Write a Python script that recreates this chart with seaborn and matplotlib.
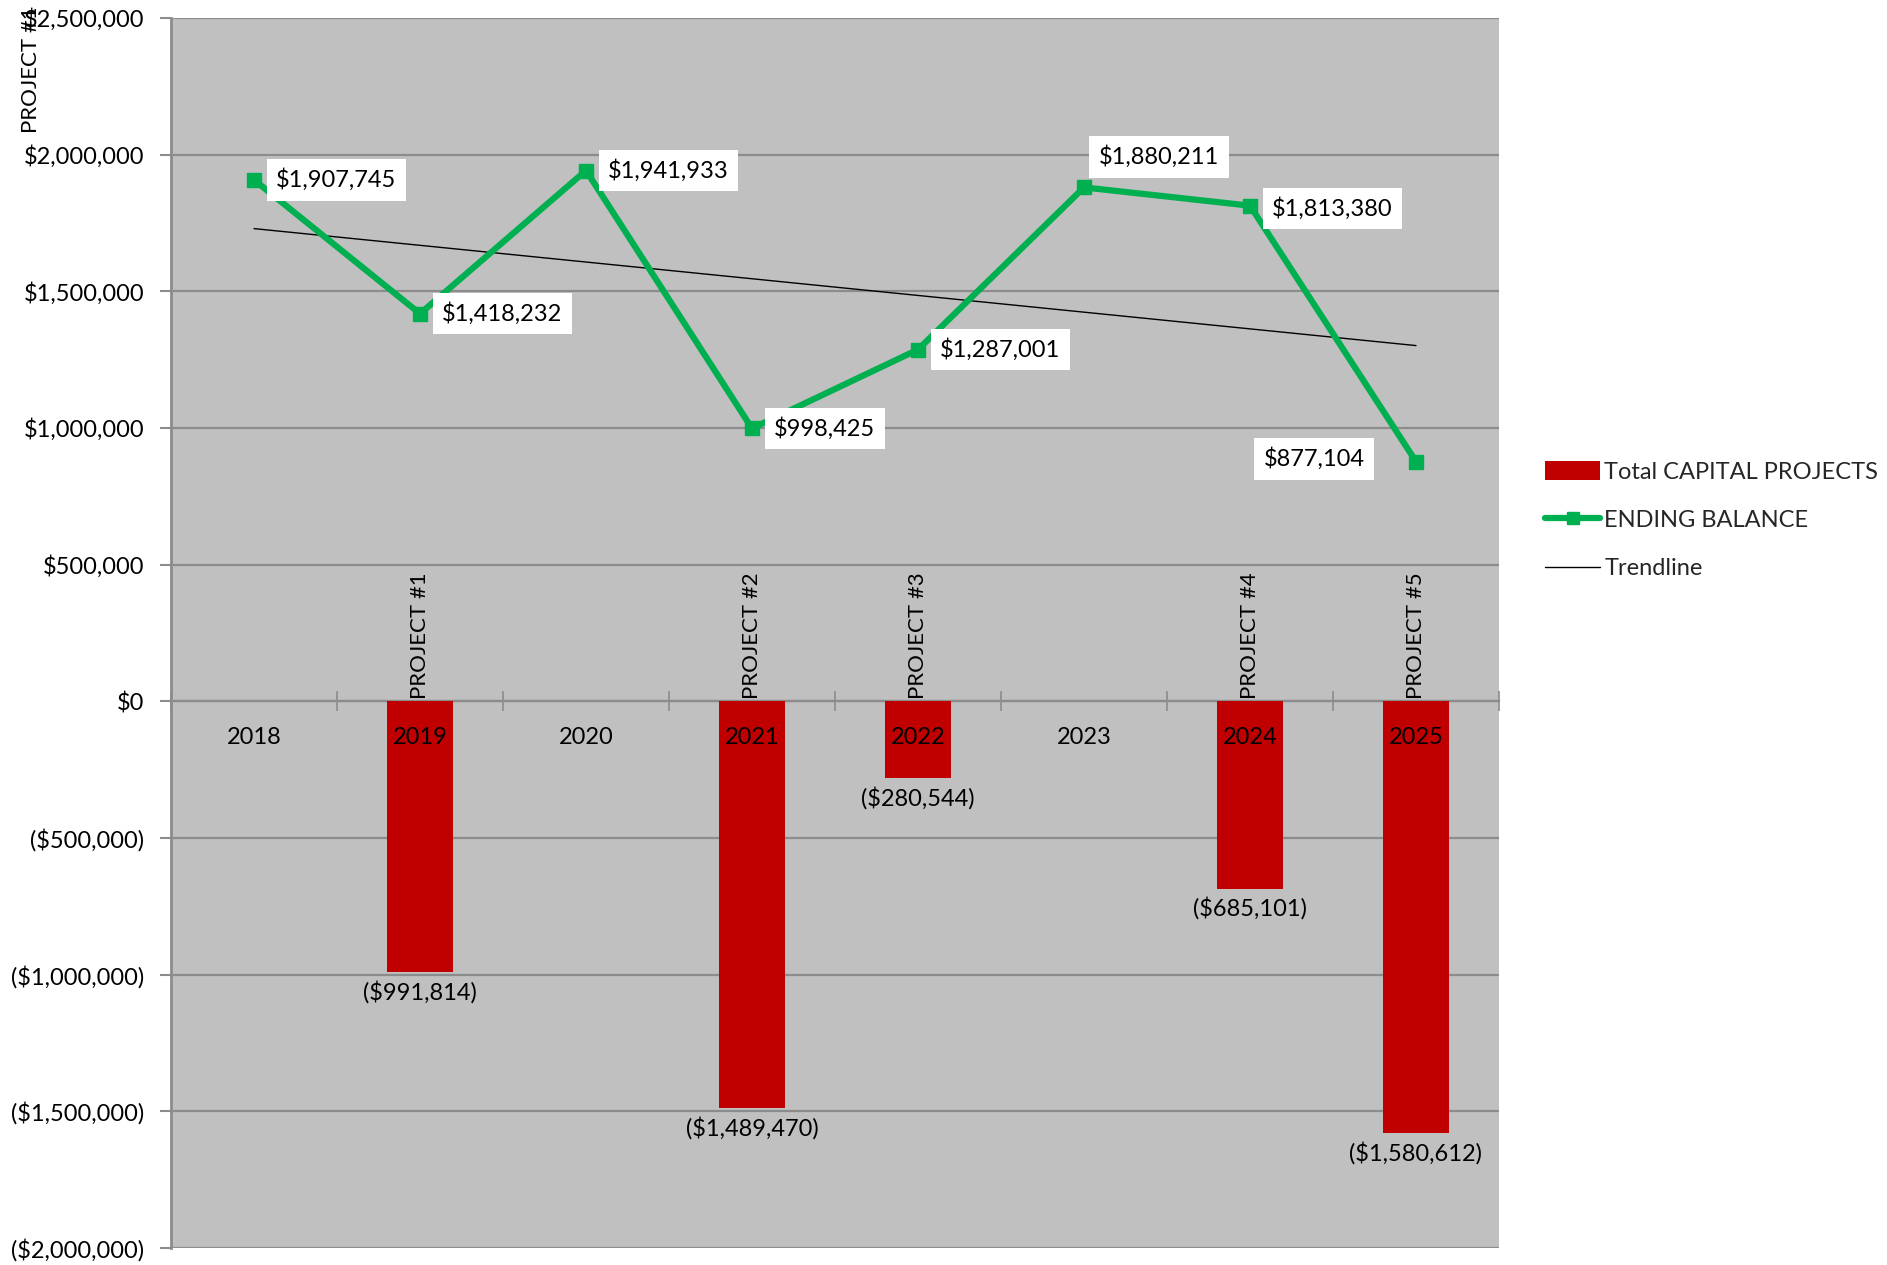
import numpy as np
import pandas as pd
import matplotlib
matplotlib.use("Agg")
import matplotlib.pyplot as plt
import matplotlib.ticker as mticker
from matplotlib.patches import Patch
from matplotlib.lines import Line2D
import seaborn as sns

# ---- data ----
years = ["2018", "2019", "2020", "2021", "2022", "2023", "2024", "2025"]
capital_projects = [0, -991814, 0, -1489470, -280544, 0, -685101, -1580612]
project_names = ["", "PROJECT #1", "", "PROJECT #2", "PROJECT #3", "", "PROJECT #4", "PROJECT #5"]
ending_balance = [1907745, 1418232, 1941933, 998425, 1287001, 1880211, 1813380, 877104]

df = pd.DataFrame({"year": years, "capital": capital_projects,
                   "balance": ending_balance, "pos": np.arange(len(years))})

sns.set_theme(style="white")
plt.rcParams["font.family"] = ["Lato", "DejaVu Sans"]
FS = 17

RED = "#C00000"
GREEN = "#00B050"
GRID = "#8C8C8C"

fig = plt.figure(figsize=(18.87, 12.65), dpi=100)
ax = fig.add_axes([171 / 1887, 1 - 1248 / 1265, (1499 - 171) / 1887, (1248 - 18) / 1265])
ax.set_facecolor("#C0C0C0")

# bars for capital projects
sns.barplot(data=df, x="year", y="capital", order=years, color=RED, saturation=1,
            width=0.4, ax=ax, zorder=2, linewidth=0, edgecolor="none")

# ending balance line
ax.plot(df["pos"], df["balance"], color=GREEN, lw=4.5, marker="s", ms=10,
        zorder=4, solid_joinstyle="miter")

# linear trendline fitted to ending balance
coef = np.polyfit(df["pos"], df["balance"], 1)
tx = np.array([0, len(years) - 1])
ax.plot(tx, np.polyval(coef, tx), color="black", lw=1.0, zorder=3)

ax.set_xlim(-0.5, len(years) - 0.5)
ax.set_ylim(-2000000, 2500000)
ax.set_xlabel("")
ax.set_ylabel("")

# gridlines drawn beneath the bars
ax.yaxis.set_major_locator(mticker.MultipleLocator(500000))
for yv in np.arange(-2000000, 2500001, 500000):
    ax.axhline(yv, color=GRID, lw=1.6, zorder=0.5)

def money(v, pos=None):
    if v < 0:
        return f"(${abs(v):,.0f})"
    return f"${v:,.0f}"

ax.yaxis.set_major_formatter(mticker.FuncFormatter(money))
ax.tick_params(axis="y", which="major", labelsize=FS, length=8, width=1.5,
               color=GRID, pad=11, left=True, labelcolor="black")

# category axis at zero
for s in ["top", "right"]:
    ax.spines[s].set_visible(False)
ax.spines["left"].set_color(GRID)
ax.spines["left"].set_linewidth(2)
ax.spines["bottom"].set_position(("data", 0))
ax.spines["bottom"].set_color(GRID)
ax.spines["bottom"].set_linewidth(1.6)
ax.spines["bottom"].set_zorder(1.5)
ax.set_xticks(np.arange(-0.5, len(years), 1.0))
ax.set_xticklabels([])
ax.tick_params(axis="x", which="major", direction="inout", length=14, width=1.2,
               color=GRID, bottom=True)

# year labels
for i, y in enumerate(years):
    ax.annotate(y, (i, 0), xytext=(0, -26), textcoords="offset points",
                ha="center", va="center", fontsize=FS, color="black", zorder=6)

# project names above the axis
for i, name in enumerate(project_names):
    if name:
        ax.annotate(name, (i, 0), xytext=(0, 2), textcoords="offset points",
                    ha="center", va="bottom", rotation=90, fontsize=16,
                    color="black", zorder=6)

# bar value labels
for i, v in enumerate(capital_projects):
    if v != 0:
        ax.annotate(money(v), (i, v), xytext=(0, -6), textcoords="offset points",
                    ha="center", va="top", fontsize=FS, color="black", zorder=6)

# balance value labels
offsets = [(16, 0, "left"), (16, 0, "left"), (16, 0, "left"), (16, 0, "left"),
           (16, 0, "left"), (54, 22, "center"), (16, -2, "left"), (-37, 2, "right")]
box = dict(boxstyle="square,pad=0.4", fc="white", ec="none")
for i, v in enumerate(ending_balance):
    dx, dy, ha = offsets[i]
    ax.annotate(money(v), (i, v), xytext=(dx, dy), textcoords="offset points",
                ha=ha, va="center", fontsize=FS, color="black", bbox=box, zorder=7)

# stray rotated label at the top-left corner
fig.text(31 / 1887, 1 - 6 / 1265, "PROJECT #1", rotation=90, ha="center", va="top",
         fontsize=16, color="black")

handles = [Patch(facecolor=RED, edgecolor="none"),
           Line2D([0], [0], color=GREEN, lw=4.5, marker="s", ms=9,
                  solid_capstyle="round"),
           Line2D([0], [0], color="black", lw=1.0)]
labels = ["Total CAPITAL PROJECTS", "ENDING BALANCE", "Trendline"]
fig.legend(handles, labels, loc="upper left",
           bbox_to_anchor=(1536 / 1887, 1 - 452 / 1265), frameon=False,
           fontsize=FS, handlelength=2.3, handleheight=0.8, handletextpad=0.2,
           labelspacing=1.15, borderaxespad=0)

fig.savefig("out.png", dpi=100, facecolor="white")
